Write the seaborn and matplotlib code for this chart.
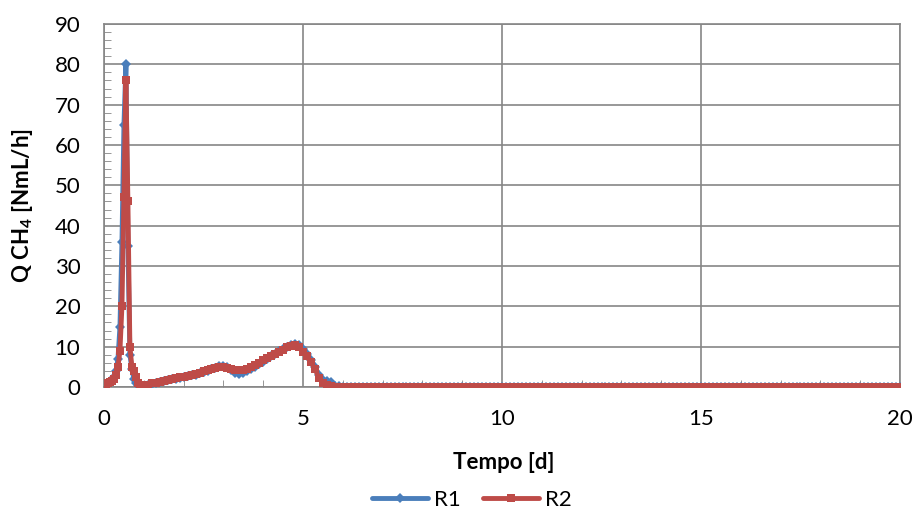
import matplotlib
matplotlib.use("Agg")
import matplotlib.pyplot as plt
import seaborn as sns
import numpy as np
import pandas as pd
from matplotlib.ticker import MultipleLocator

# ---- data ----
tempo_early = [0, 0.05, 0.1, 0.15, 0.2, 0.25, 0.3, 0.35, 0.4, 0.45, 0.5, 0.55, 0.6,
               0.65, 0.7, 0.75, 0.8, 0.85, 0.9, 1.0, 1.1, 1.2, 1.3, 1.4, 1.5, 1.6,
               1.7, 1.8, 1.9, 2.0, 2.1, 2.2, 2.3, 2.4, 2.5, 2.6, 2.7, 2.8, 2.9, 3.0,
               3.1, 3.2, 3.3, 3.4, 3.5, 3.6, 3.7, 3.8, 3.9, 4.0, 4.1, 4.2, 4.3, 4.4,
               4.5, 4.6, 4.7, 4.8, 4.9, 5.0, 5.1, 5.2, 5.3, 5.4, 5.5, 5.6, 5.7, 5.8,
               5.9, 6.0]
r1_early = [0.3, 0.8, 1.0, 1.2, 1.5, 2.5, 4.0, 7.0, 15.0, 36.0, 65.0, 80.0, 35.0,
            8.0, 4.5, 2.0, 1.0, 0.5, 0.4, 0.3, 0.5, 0.8, 1.1, 1.3, 1.5, 1.7,
            1.9, 2.1, 2.3, 2.5, 2.7, 2.9, 3.1, 3.4, 3.7, 4.0, 4.4, 4.8, 5.1, 5.2,
            5.0, 4.3, 3.6, 3.3, 3.5, 3.9, 4.4, 5.0, 5.6, 6.3, 7.0, 7.7, 8.3, 8.9,
            9.4, 9.9, 10.4, 10.7, 10.4, 9.5, 8.2, 6.8, 5.0, 3.0, 1.8, 1.5, 1.2, 0.3,
            0.2, 0.1]
r2_early = [0.5, 0.8, 1.0, 1.2, 1.4, 2.0, 3.0, 5.0, 9.0, 20.0, 47.0, 76.0, 46.0,
            10.0, 5.0, 4.0, 2.5, 1.0, 0.6, 0.5, 0.6, 0.9, 1.1, 1.3, 1.6, 1.8,
            2.0, 2.2, 2.4, 2.6, 2.8, 3.0, 3.3, 3.6, 3.9, 4.2, 4.5, 4.8, 5.0, 5.0,
            4.8, 4.5, 4.2, 4.1, 4.2, 4.5, 4.9, 5.4, 6.0, 6.6, 7.2, 7.8, 8.3, 8.8,
            9.3, 9.8, 10.2, 10.3, 9.9, 8.8, 7.6, 6.2, 4.5, 2.2, 1.0, 0.4, 0.2, 0.1,
            0.1, 0.1]
# sampling times after day 6 (one reading every 0.1 d), flow stays ~0.1
tempo_late = [round(6.1 + 0.1 * i, 1) for i in range(140)]
r1_late = [0.1] * len(tempo_late)
r2_late = [0.1] * len(tempo_late)

tempo = tempo_early + tempo_late
r1 = r1_early + r1_late
r2 = r2_early + r2_late

series_names = ["R1", "R2"]
x_label = "Tempo [d]"
y_label = r"Q CH$_\mathbf{4}$ [NmL/h]"

# ---- style ----
sns.set_style("white")
plt.rcParams["font.family"] = ["Lato", "DejaVu Sans"]
plt.rcParams["mathtext.fontset"] = "custom"
plt.rcParams["mathtext.rm"] = "Lato"
plt.rcParams["mathtext.bf"] = "Lato:bold"
plt.rcParams["text.color"] = "black"
plt.rcParams["axes.labelcolor"] = "black"

blue = "#4A7EBB"
red = "#BE4B48"
grid_c = "#868686"
FS = 16

fig = plt.figure(figsize=(9.15, 5.15), dpi=100)
ax = fig.add_axes([0.1137, 0.2485, 0.8699, 0.7049])

df = pd.DataFrame({"t": tempo, "R1": r1, "R2": r2})

sns.lineplot(data=df, x="t", y="R1", ax=ax, color=blue, lw=3.4, marker="D",
             markersize=5, markeredgewidth=0, label=series_names[0], zorder=3)
sns.lineplot(data=df, x="t", y="R2", ax=ax, color=red, lw=4.6, marker="s",
             markersize=6, markeredgewidth=0, label=series_names[1], zorder=4)

ax.set_xlim(0, 20)
ax.set_ylim(0, 90)
ax.xaxis.set_major_locator(MultipleLocator(5))
ax.yaxis.set_major_locator(MultipleLocator(10))
ax.xaxis.set_minor_locator(MultipleLocator(1))
ax.yaxis.set_minor_locator(MultipleLocator(2))
ax.grid(True, which="major", color=grid_c, lw=1.2)
ax.set_axisbelow(True)
for s in ax.spines.values():
    s.set_color(grid_c)
    s.set_linewidth(1.2)
ax.tick_params(which="major", length=0, labelsize=FS, labelcolor="black")
ax.tick_params(axis="x", which="major", pad=16)
ax.tick_params(axis="y", which="major", pad=17)
ax.tick_params(which="minor", length=5, color=grid_c, direction="in",
               bottom=True, left=True)

ax.set_xlabel(x_label, fontsize=FS, fontweight="bold", va="center")
ax.set_ylabel(y_label, fontsize=FS, fontweight="bold", va="center")
ax.xaxis.set_label_coords(0.5025, -0.2066)
ax.yaxis.set_label_coords(-0.103, 0.5)

ax.legend_.remove()
h, l = ax.get_legend_handles_labels()
for hh in h:
    hh.set_linewidth(3.5)
fig.legend(h, l, loc="center", bbox_to_anchor=(0.516, 0.03), ncol=2,
           frameon=False, fontsize=FS, handlelength=2.5, columnspacing=1.0,
           handletextpad=0.3, borderpad=0.0)

fig.savefig("out.png", dpi=100)
